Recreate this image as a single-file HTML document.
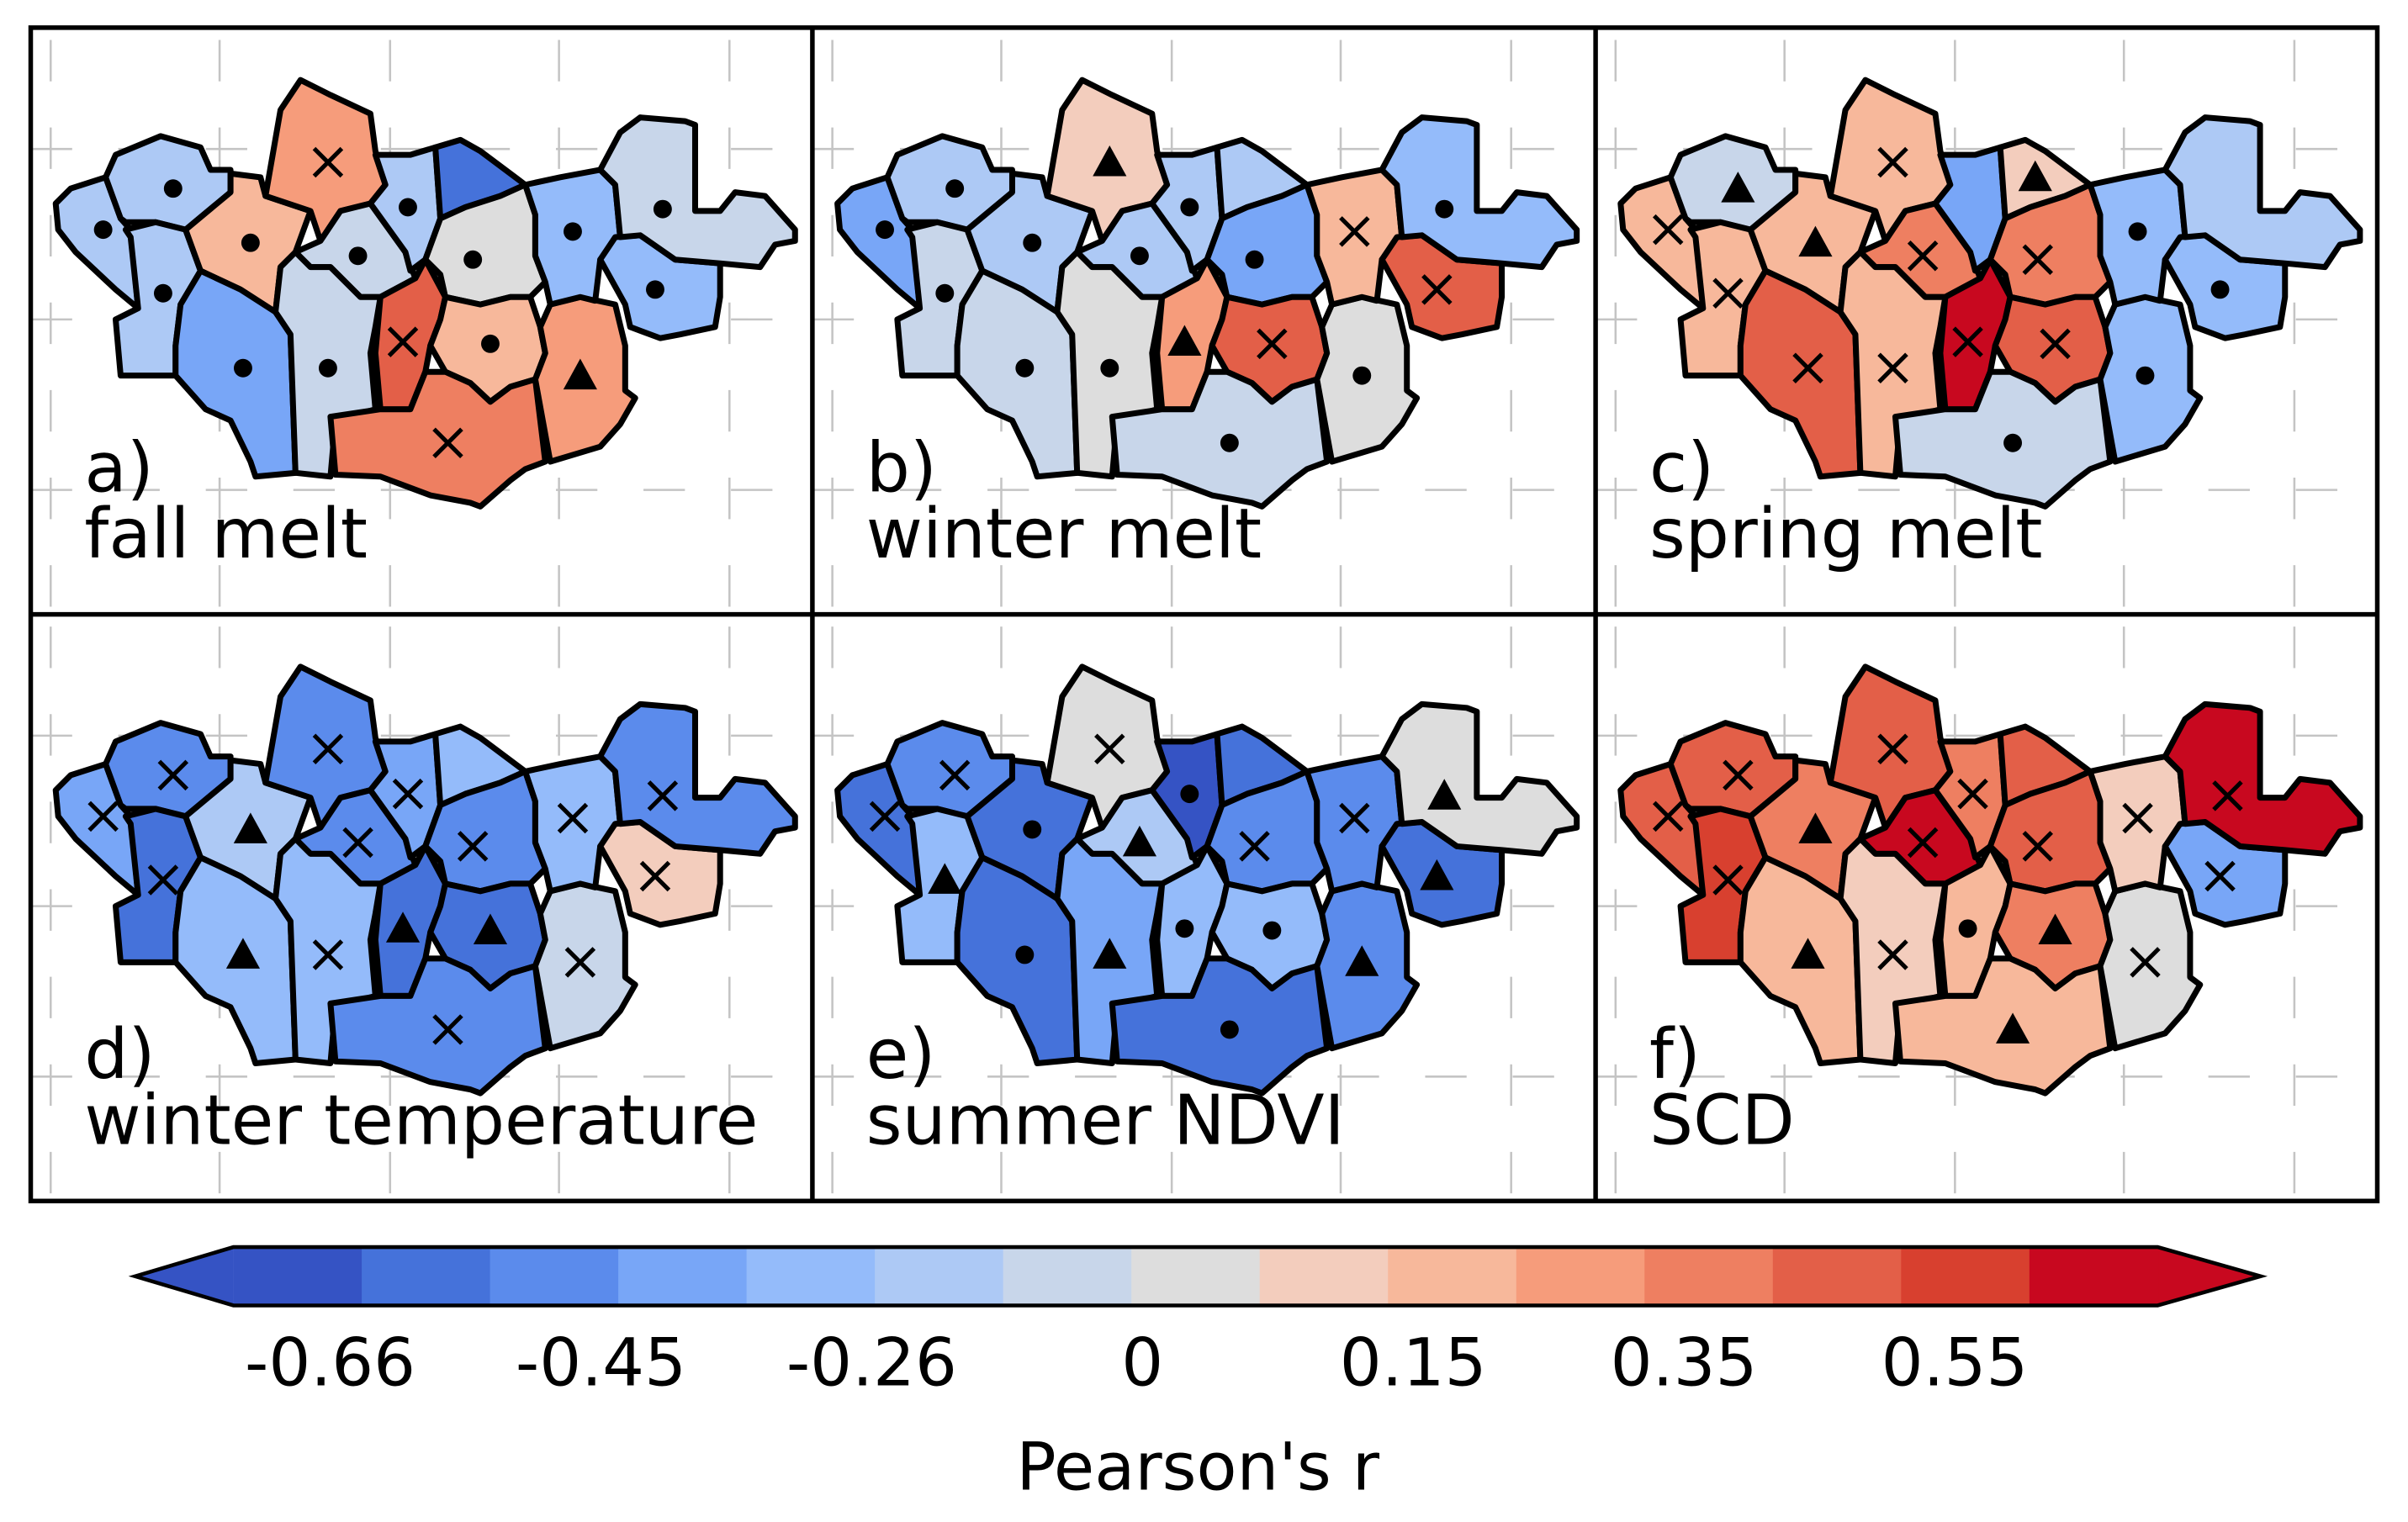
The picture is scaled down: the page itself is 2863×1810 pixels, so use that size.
<!DOCTYPE html>
<html><head><meta charset="utf-8"><style>
html,body{margin:0;padding:0;background:#fff}
svg{display:block}
text{font-family:"DejaVu Sans","Liberation Sans",sans-serif}
</style></head><body>
<svg id="fig" width="2863" height="1810" viewBox="0 0 1568 991" preserveAspectRatio="none" xmlns="http://www.w3.org/2000/svg">
<rect x="0" y="0" width="1568" height="991" fill="#fff"/>
<g id="panels"></g>
<g id="cbar"></g>
</svg>
<script>
const NS="http://www.w3.org/2000/svg";
const palette=["#3553c4","#4572da","#5b8bec","#78a6f7","#94bbfa","#adc9f5","#c8d6ea","#dddddd","#f3cdbd","#f7b89b","#f69c7b","#ee7f61","#e35f48","#d8402f","#c8081f"];
const regions=[
"50,470 80,430 150,400 180,510 200,540 215,750 170,700 90,600 55,540",
"150,400 170,340 260,290 340,320 360,380 400,380 400,440 310,540 250,520 190,520 180,510",
"190,540 250,520 310,540 340,650 300,740 290,850 290,930 180,930 170,780 215,750 200,560",
"310,540 400,440 400,390 460,400 470,450 560,490 530,600 500,640 490,760 420,700 340,650",
"470,450 500,220 540,140 600,180 680,230 690,330 710,420 680,470 620,490 580,570 560,490",
"340,650 420,700 490,760 520,820 530,1190 450,1200 440,1160 400,1050 350,1020 290,930 290,850 300,740",
"530,600 580,570 620,490 680,470 750,600 770,670 700,720 660,720 600,640 560,640",
"680,470 710,420 690,340 760,340 810,320 820,510 790,620 760,650 750,600",
"810,320 860,300 900,330 970,400 990,420 940,450 870,480 820,510",
"820,510 870,480 940,450 990,420 1010,500 1010,610 1030,680 1000,720 960,720 900,740 830,720 820,660 790,620",
"500,640 530,600 560,640 600,640 660,720 700,720 690,800 680,870 690,1020 610,1050 600,1200 530,1190 520,820 490,760",
"700,720 770,670 790,620 830,720 820,780 800,850 790,920 760,1020 700,1020 690,870",
"830,720 900,740 960,720 1000,720 1020,800 1030,870 1010,940 960,960 920,1000 880,950 830,920 800,850 820,780",
"600,1040 700,1020 760,1020 790,920 830,920 880,950 920,1000 960,960 1010,940 1030,1160 990,1180 960,1210 900,1280 880,1270 800,1250 740,1220 700,1200 610,1195",
"1010,940 1030,870 1020,800 1040,740 1100,720 1170,740 1190,850 1190,970 1210,990 1180,1060 1140,1120 1040,1160",
"990,420 1060,400 1140,380 1170,420 1180,560 1140,620 1130,730 1100,720 1040,740 1030,680 1010,610 1010,500",
"1170,560 1220,555 1290,620 1380,630 1380,720 1370,800 1300,820 1260,830 1200,800 1190,740 1140,620",
"1140,380 1180,280 1220,240 1310,250 1330,260 1330,490 1380,490 1410,440 1470,450 1530,540 1530,570 1490,580 1460,640 1380,630 1290,620 1220,555 1180,560 1170,420"];
const markerPos=[[145,540],[285,430],[265,710],[440,575],[595,360],[425,910],[655,610],[755,480],[880,400],[885,620],[595,910],[745,840],[920,845],[835,1110],[1100,930],[1085,545],[1250,700],[1265,485]];
const panelLabels=["a)","b)","c)","d)","e)","f)"];
const panelTitles=["fall melt","winter melt","spring melt","winter temperature","summer NDVI","SCD"];
const colorsA=[5,5,5,9,10,3,6,5,1,7,6,12,9,11,10,4,4,6];
const colorsB=[3,5,6,5,8,6,5,5,5,3,7,10,12,6,7,9,12,4];
const colorsC=[9,6,9,9,9,12,11,3,8,11,9,14,12,6,4,4,4,5];
const colorsD=[3,2,1,5,2,4,2,3,4,2,4,1,1,2,6,4,8,2];
const colorsE=[1,2,4,1,7,1,5,0,1,2,3,4,4,1,2,2,1,7];
const colorsF=[12,12,13,11,12,9,14,11,12,12,8,9,11,9,7,8,3,14];
const marksA=["o","o","o","o","x","o","o","o","","o","o","x","o","x","t","o","o","o"];
const marksB=["o","o","o","o","t","o","o","o","","o","o","t","x","o","o","x","x","o"];
const marksC=["x","t","x","t","x","x","x","","t","x","x","x","x","o","o","o","o",""];
const marksD=["x","x","x","t","x","t","x","x","","x","x","t","t","x","x","x","x","x"];
const marksE=["x","x","t","o","x","o","t","o","","x","t","o","o","o","t","x","t","t"];
const marksF=["x","x","x","t","x","t","x","x","","x","x","o","t","t","x","x","x","x"];
const allColors=[colorsA,colorsB,colorsC,colorsD,colorsE,colorsF];
const allMarks=[marksA,marksB,marksC,marksD,marksE,marksF];
const origins=[[20,18],[529,18],[1039,18],[20,400],[529,400],[1039,400]];
const SX=0.3253,SY=0.2436;
function mk(tag,attrs,parent){const e=document.createElementNS(NS,tag);for(const k in attrs)e.setAttribute(k,attrs[k]);parent.appendChild(e);return e;}
const P=document.getElementById('panels');
for(let p=0;p<6;p++){
  const [ox,oy]=origins[p];
  const g=mk('g',{transform:`translate(${ox},${oy})`},P);
  
  
  mk('rect',{x:0,y:0,width:510,height:382,fill:'#fff'},g);
  [13,123,234,344,455].forEach(x=>{const l=mk('line',{x1:x,y1:0,x2:x,y2:382,stroke:'#c4c4c4','stroke-width':1.4,'stroke-dasharray':'27 30','stroke-dashoffset':-8},g);
    });
  [79,190,301].forEach(y=>{const l=mk('line',{x1:0,y1:y,x2:510,y2:y,stroke:'#c4c4c4','stroke-width':1.4,'stroke-dasharray':'27 30'},g);
    });
  const mg=mk('g',{transform:`scale(${SX},${SY})`},g);
  for(let r=0;r<regions.length;r++){
    const poly=mk('polygon',{points:regions[r],fill:palette[allColors[p][r]],stroke:'#000','stroke-width':7,'stroke-linejoin':'round','vector-effect':'non-scaling-stroke'},mg);
    
    
  }
  for(let r=0;r<regions.length;r++){
    const m=allMarks[p][r];if(!m)continue;
    const cx=markerPos[r][0]*SX,cy=markerPos[r][1]*SY;
    let el;
    if(m==='o')el=mk('circle',{cx:cx,cy:cy,r:6,fill:'#000'},g);
    else if(m==='t')el=mk('polygon',{points:`${cx},${cy-11} ${cx-11},${cy+9} ${cx+11},${cy+9}`,fill:'#000'},g);
    else el=mk('path',{d:`M${cx-9},${cy-9}L${cx+9},${cy+9}M${cx+9},${cy-9}L${cx-9},${cy+9}`,stroke:'#000','stroke-width':2.8,fill:'none'},g);
    
    
  }
  const t1=mk('text',{x:35,y:302,'font-size':45,fill:'#000'},g);t1.textContent=panelLabels[p];
  
  const t2=mk('text',{x:35,y:345,'font-size':45,fill:'#000'},g);t2.textContent=panelTitles[p];
  
}
const fr=mk('g',{},P);
mk('rect',{x:20,y:18,width:1528,height:764,fill:'none',stroke:'#000','stroke-width':3},fr);
mk('line',{x1:529,y1:18,x2:529,y2:782,stroke:'#000','stroke-width':3},fr);
mk('line',{x1:1039,y1:18,x2:1039,y2:782,stroke:'#000','stroke-width':3},fr);
mk('line',{x1:20,y1:400,x2:1548,y2:400,stroke:'#000','stroke-width':3},fr);
const tickLabels=["-0.66","-0.45","-0.26","0","0.15","0.35","0.55"];
const C=document.getElementById('cbar');
const x0=152,x1=1405,y0=812,y1=850,sw=(x1-x0)/palette.length;
mk('polygon',{points:`88,831 ${x0},${y0} ${x0},${y1}`,fill:palette[0]},C);
mk('polygon',{points:`${x1},${y0} 1472,831 ${x1},${y1}`,fill:palette[14]},C);
palette.forEach((c,i)=>{const r=mk('rect',{x:x0+i*sw,y:y0,width:sw+0.5,height:y1-y0,fill:c},C);
  });
mk('polygon',{points:`88,831 ${x0},${y0} ${x1},${y0} 1472,831 ${x1},${y1} ${x0},${y1}`,fill:'none',stroke:'#000','stroke-width':2.5},C);
tickLabels.forEach((t,i)=>{const e=mk('text',{x:215+i*176.3,y:902,'font-size':43,'text-anchor':'middle',fill:'#000'},C);e.textContent=t;
  });
const ct=mk('text',{x:780,y:970,'font-size':43,'text-anchor':'middle',fill:'#000'},C);ct.textContent="Pearson's r";

</script>
</body></html>
